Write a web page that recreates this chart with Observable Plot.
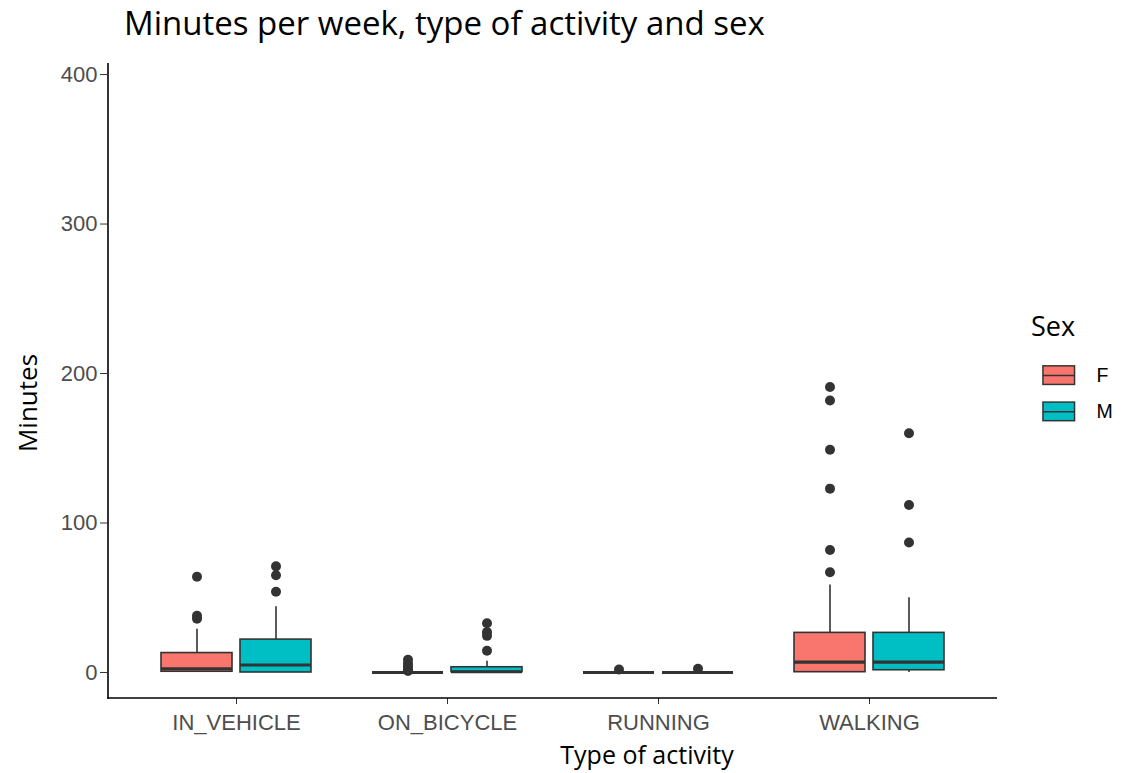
<!DOCTYPE html>
<html>
<head>
<meta charset="utf-8">
<script src="https://cdn.jsdelivr.net/npm/d3@7"></script>
<script src="https://cdn.jsdelivr.net/npm/@observablehq/plot@0.6"></script>
<style>
  body { margin: 0; background: #fff; }
  #wrap { position: relative; width: 1135px; height: 773px; overflow: hidden; background: #fff; }
  .txt { position: absolute; white-space: nowrap; color: #000; font-family: "Open Sans", sans-serif; line-height: normal; }
  #chart, #yaxis, #legend { position: absolute; left: 0; top: 0; }
</style>
</head>
<body>
<div id="wrap">
  <div id="chart"></div>
  <div id="yaxis"></div>
  <div id="legend"></div>
  <div class="txt" id="title" style="left:124px; top:0px; font-size:33px;">Minutes per week, type of activity and sex</div>
  <div class="txt" id="xtitle" style="left:647px; top:737px; font-size:25px; transform:translateX(-50%);">Type of activity</div>
  <div class="txt" id="ytitle" style="left:27px; top:403px; font-size:26px; transform:translate(-50%,-50%) rotate(-90deg);">Minutes</div>
  <div class="txt" id="legtitle" style="left:1031px; top:307px; font-size:27px;">Sex</div>
</div>
<script>
// Activity categories and the two sexes
const activities = ["IN_VEHICLE", "ON_BICYCLE", "RUNNING", "WALKING"];
const sexes = ["F", "M"];
const minuteTicks = [0, 100, 200, 300, 400];

// Box summaries (minutes per week), one entry per activity × sex
const boxActivity = ["IN_VEHICLE", "IN_VEHICLE", "ON_BICYCLE", "ON_BICYCLE", "RUNNING", "RUNNING", "WALKING", "WALKING"];
const boxSex      = ["F", "M", "F", "M", "F", "M", "F", "M"];
const whiskerLow  = [0, 0, 0, 0, 0, 0, 0, 0];
const lowerQuartile = [0.5, 0, 0, 0.3, 0, 0, 0.2, 1.5];
const median      = [2.5, 5, 0, 0.5, 0, 0, 7, 7];
const upperQuartile = [13, 22, 0, 3.5, 0, 0, 26.5, 26.5];
const whiskerHigh = [29, 44, 0, 7.5, 0, 0, 58.5, 50];

// Outlying observations
const outlierActivity = [
  "IN_VEHICLE", "IN_VEHICLE", "IN_VEHICLE",
  "IN_VEHICLE", "IN_VEHICLE", "IN_VEHICLE",
  "ON_BICYCLE", "ON_BICYCLE", "ON_BICYCLE", "ON_BICYCLE", "ON_BICYCLE",
  "ON_BICYCLE", "ON_BICYCLE", "ON_BICYCLE", "ON_BICYCLE",
  "RUNNING", "RUNNING",
  "WALKING", "WALKING", "WALKING", "WALKING", "WALKING", "WALKING",
  "WALKING", "WALKING", "WALKING"
];
const outlierSex = [
  "F", "F", "F",
  "M", "M", "M",
  "F", "F", "F", "F", "F",
  "M", "M", "M", "M",
  "F", "M",
  "F", "F", "F", "F", "F", "F",
  "M", "M", "M"
];
const outlierMinutes = [
  36, 38, 64,
  54, 65, 71,
  1, 2, 4, 6, 8.5,
  14.5, 24.5, 27, 33,
  2, 2.5,
  67, 82, 123, 149, 182, 191,
  87, 112, 160
];

const sexColors = ["#F8766D", "#00BFC4"];
const ink = "#333333";

const boxes = boxActivity.map((a, i) => ({
  activity: a, sex: boxSex[i],
  lo: whiskerLow[i], q1: lowerQuartile[i], med: median[i], q3: upperQuartile[i], hi: whiskerHigh[i]
}));
const outliers = outlierActivity.map((a, i) => ({activity: a, sex: outlierSex[i], minutes: outlierMinutes[i]}));

const M = {top: 63, right: 138, bottom: 75, left: 108};
const W = 1135, H = 773;
const yDomain = [-17.4, 407.4];
const axisFont = {fontFamily: "'Liberation Sans', Arial, sans-serif", fontSize: "22px", color: "#4d4d4d", overflow: "visible"};

// Boxes, faceted by activity and dodged by sex
const chart = Plot.plot({
  width: W,
  height: H,
  marginTop: M.top,
  marginBottom: M.bottom,
  marginLeft: M.left,
  marginRight: M.right,
  style: {...axisFont, background: "#fff"},
  fx: {domain: activities, paddingInner: 0.25, paddingOuter: 0.225, label: null, axis: "bottom", tickSize: 6, tickPadding: 10},
  x: {domain: sexes, paddingInner: 0.1, paddingOuter: 0.05, axis: null},
  y: {domain: yDomain, axis: null},
  color: {domain: sexes, range: sexColors},
  marks: [
    Plot.ruleX(boxes, {fx: "activity", x: "sex", y1: "lo", y2: "hi", stroke: ink, strokeWidth: 1.6}),
    Plot.barY(boxes, {fx: "activity", x: "sex", y1: "q1", y2: "q3", fill: "sex", stroke: ink, strokeWidth: 1.6}),
    Plot.tickY(boxes, {fx: "activity", x: "sex", y: "med", stroke: ink, strokeWidth: 3.2}),
    Plot.dot(outliers, {fx: "activity", x: "sex", y: "minutes", r: 5, fill: ink, stroke: "none"})
  ]
});
document.getElementById("chart").appendChild(chart);

// Axis lines along the left and bottom of the panel
const svg = d3.select(chart);
const panelRight = W - M.right, panelBottom = H - M.bottom;
svg.append("line").attr("x1", M.left).attr("x2", M.left).attr("y1", M.top).attr("y2", panelBottom + 0.8)
  .attr("stroke", "#000").attr("stroke-width", 1.6);
svg.append("line").attr("x1", M.left - 0.8).attr("x2", panelRight).attr("y1", panelBottom).attr("y2", panelBottom)
  .attr("stroke", "#000").attr("stroke-width", 1.6);
svg.selectAll("g[aria-label='fx-axis tick'] path").attr("stroke", ink);

// Minutes axis on the panel's left edge, sharing the same y scale
const yAxisPlot = Plot.plot({
  width: W,
  height: H,
  marginTop: M.top,
  marginBottom: M.bottom,
  marginLeft: M.left,
  marginRight: M.right,
  style: {...axisFont, background: "transparent"},
  y: {domain: yDomain, ticks: minuteTicks, tickSize: 8, tickPadding: 3, label: null},
  marks: [Plot.ruleY([], {y: d => d})]
});
d3.select(yAxisPlot).selectAll("g[aria-label='y-axis tick'] path").attr("stroke", ink);
document.getElementById("yaxis").appendChild(yAxisPlot);

// Legend: box glyphs keyed by sex
const legend = Plot.plot({
  width: 100,
  height: 78,
  marginTop: 0, marginBottom: 0, marginLeft: 1, marginRight: 65,
  style: {fontFamily: "'Liberation Sans', Arial, sans-serif", fontSize: "21px", color: "#000", background: "transparent", overflow: "visible"},
  y: {domain: sexes, padding: 0, axis: null},
  color: {domain: sexes, range: sexColors},
  marks: [
    Plot.ruleX(sexes, {x: null, y: d => d, stroke: ink, strokeWidth: 1.4, insetTop: 3.5, insetBottom: 3.5}),
    Plot.cell(sexes, {y: d => d, fill: d => d, stroke: ink, strokeWidth: 1.6, insetTop: 9.5, insetBottom: 9.5}),
    Plot.ruleY(sexes, {y: d => d, stroke: ink, strokeWidth: 1.6}),
    Plot.text(sexes, {y: d => d, text: d => d, frameAnchor: "right", textAnchor: "start", dx: 23, fill: "#000"})
  ]
});
const legendHolder = document.getElementById("legend");
legendHolder.style.left = "1042px";
legendHolder.style.top = "357px";
legendHolder.appendChild(legend);
</script>
</body>
</html>
